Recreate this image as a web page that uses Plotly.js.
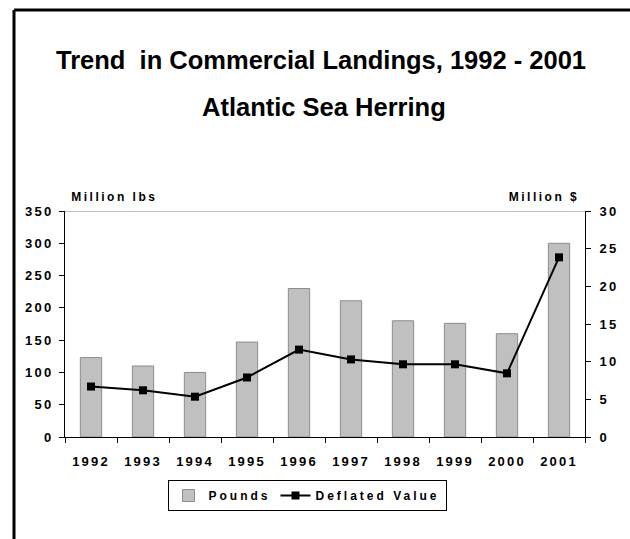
<!DOCTYPE html>
<html>
<head>
<meta charset="utf-8">
<script src="https://cdn.plot.ly/plotly-3.0.1.min.js"></script>
<style>
  html, body { margin: 0; padding: 0; background: #fff; }
  #chart { width: 630px; height: 539px; }
  .xtick text, .ytick text, .y2tick text { letter-spacing: 2.2px; }
  .legendtext { letter-spacing: 3px; }
  .annotation[data-index="2"] .annotation-text,
  .annotation[data-index="3"] .annotation-text { letter-spacing: 2.5px; }
</style>
</head>
<body>
<div id="chart"></div>
<script>
const years = ["1992","1993","1994","1995","1996","1997","1998","1999","2000","2001"];
const pounds = [123, 110, 100, 147, 230, 211, 180, 176, 160, 300];
const deflatedValue = [6.7, 6.2, 5.35, 7.9, 11.6, 10.3, 9.65, 9.65, 8.45, 23.85];
const leftTicks = [0, 50, 100, 150, 200, 250, 300, 350];
const rightTicks = [0, 5, 10, 15, 20, 25, 30];

const W = 630, H = 539;
const M = { l: 65, r: 45, t: 211, b: 102 };
const pw = W - M.l - M.r, ph = H - M.t - M.b;
const px = x => (x - M.l) / pw;
const py = y => (H - M.b - y) / ph;

const font = "Liberation Sans, Arial, sans-serif";

const traces = [
  {
    type: "bar", name: "Pounds", x: years, y: pounds,
    width: 0.41,
    marker: { color: "#c0c0c0", line: { color: "#8c8c8c", width: 1 } },
    yaxis: "y"
  },
  {
    type: "scatter", mode: "lines+markers", name: "Deflated Value",
    x: years, y: deflatedValue, yaxis: "y2",
    line: { color: "#000", width: 2 },
    marker: { symbol: "square", size: 8, color: "#000" }
  }
];

const layout = {
  width: W, height: H,
  margin: M,
  paper_bgcolor: "#fff", plot_bgcolor: "#fff",
  showlegend: true,
  font: { family: font, color: "#000", size: 12, weight: 700 },
  xaxis: {
    type: "category", range: [-0.5, 9.5],
    showline: true, linecolor: "#000", linewidth: 1,
    ticks: "outside", tickson: "boundaries", ticklen: 5, tickcolor: "#000",
    showgrid: false, zeroline: false,
    tickfont: { family: font, size: 13, weight: 700 },
    ticklabelstandoff: 12,
    fixedrange: true
  },
  yaxis: {
    range: [0, 350], tickvals: leftTicks,
    showline: true, linecolor: "#000", linewidth: 1,
    ticks: "outside", ticklen: 5, tickcolor: "#000",
    showgrid: false, zeroline: false,
    tickfont: { family: font, size: 13, weight: 700 },
    ticklabelstandoff: 3
  },
  yaxis2: {
    overlaying: "y", side: "right",
    range: [0, 30], tickvals: rightTicks,
    showline: true, linecolor: "#000", linewidth: 1,
    ticks: "outside", ticklen: 5, tickcolor: "#000",
    showgrid: false, zeroline: false,
    tickfont: { family: font, size: 13, weight: 700 },
    ticklabelstandoff: 6
  },
  legend: {
    orientation: "h",
    x: px(307), xanchor: "center",
    y: py(495.5), yanchor: "middle",
    bordercolor: "#000", borderwidth: 1,
    bgcolor: "#fff",
    font: { family: font, size: 12, weight: 700 },
    itemwidth: 30, tracegroupgap: 0
  },
  annotations: [
    { text: "Trend  in Commercial Landings, 1992 - 2001", xref: "paper", yref: "paper",
      x: px(321), y: py(60), xanchor: "center", yanchor: "middle", showarrow: false,
      font: { family: font, size: 25.5, weight: 700 } },
    { text: "Atlantic Sea Herring", xref: "paper", yref: "paper",
      x: px(324), y: py(107), xanchor: "center", yanchor: "middle", showarrow: false,
      font: { family: font, size: 25.5, weight: 700 } },
    { text: "Million lbs", xref: "paper", yref: "paper",
      x: px(114.5), y: py(197), xanchor: "center", yanchor: "middle", showarrow: false,
      font: { family: font, size: 12, weight: 700 } },
    { text: "Million $", xref: "paper", yref: "paper",
      x: px(544), y: py(197), xanchor: "center", yanchor: "middle", showarrow: false,
      font: { family: font, size: 12, weight: 700 } }
  ],
  shapes: [
    { type: "line", xref: "paper", yref: "y", x0: 0, x1: 1, y0: 350, y1: 350,
      line: { color: "#808080", width: 1 } },
    { type: "line", xref: "paper", yref: "paper", x0: px(14), x1: px(14), y0: py(10), y1: py(545),
      line: { color: "#000", width: 3 } },
    { type: "line", xref: "paper", yref: "paper", x0: px(14), x1: px(640), y0: py(10), y1: py(10),
      line: { color: "#000", width: 3 } }
  ]
};

Plotly.newPlot("chart", traces, layout, { displayModeBar: false, staticPlot: true });
</script>
</body>
</html>
